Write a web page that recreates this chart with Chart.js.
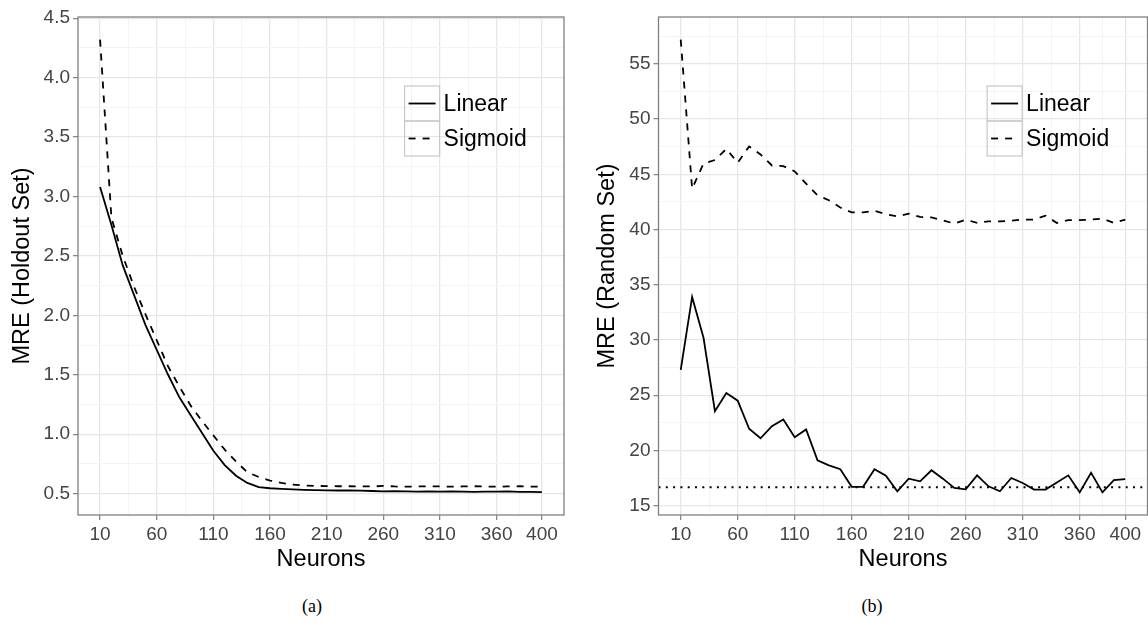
<!DOCTYPE html>
<html>
<head>
<meta charset="utf-8">
<script src="https://cdn.jsdelivr.net/npm/chart.js@4.4.1/dist/chart.umd.min.js"></script>
<style>
  html, body { margin: 0; padding: 0; background: #fff; }
  body { width: 1148px; height: 626px; position: relative; overflow: hidden; font-family: "Liberation Sans", Arial, sans-serif; }
  .panel { position: absolute; top: 0; height: 580px; }
  #wrapA { left: 0; width: 580px; }
  #wrapB { left: 580px; width: 568px; }
  .cap { position: absolute; top: 596px; font-family: "Liberation Serif", "Times New Roman", serif; font-size: 18px; color: #000; transform: translateX(-50%); }
</style>
</head>
<body>
<div class="panel" id="wrapA"><canvas id="chartA" width="580" height="580"></canvas></div>
<div class="panel" id="wrapB"><canvas id="chartB" width="568" height="580"></canvas></div>
<div class="cap" style="left:312px">(a)</div>
<div class="cap" style="left:872px">(b)</div>
<script>
// neurons on the x axis
const neurons = [10, 20, 30, 40, 50, 60, 70, 80, 90, 100, 110, 120, 130, 140, 150, 160, 170, 180, 190, 200,
  210, 220, 230, 240, 250, 260, 270, 280, 290, 300, 310, 320, 330, 340, 350, 360, 370, 380, 390, 400];
const xTicks = [10, 60, 110, 160, 210, 260, 310, 360, 400];
const xMinor = [35, 85, 135, 185, 235, 285, 335, 380];

// (a) holdout set
const holdoutLinear = [3.08, 2.76, 2.42, 2.17, 1.92, 1.71, 1.50, 1.31, 1.16, 1.01, 0.86, 0.74, 0.65, 0.59, 0.555, 0.545, 0.54, 0.535, 0.532, 0.53,
  0.528, 0.526, 0.527, 0.525, 0.522, 0.518, 0.52, 0.518, 0.516, 0.518, 0.517, 0.518, 0.516, 0.514, 0.517, 0.516, 0.518, 0.515, 0.514, 0.513];
const holdoutSigmoid = [4.32, 2.82, 2.50, 2.24, 2.01, 1.79, 1.57, 1.40, 1.24, 1.11, 0.99, 0.87, 0.77, 0.68, 0.64, 0.61, 0.59, 0.575, 0.568, 0.565,
  0.563, 0.562, 0.562, 0.56, 0.56, 0.565, 0.56, 0.558, 0.56, 0.562, 0.56, 0.558, 0.56, 0.562, 0.56, 0.558, 0.56, 0.562, 0.558, 0.558];
const holdoutTicks = [0.5, 1.0, 1.5, 2.0, 2.5, 3.0, 3.5, 4.0, 4.5];
const holdoutMinor = [0.75, 1.25, 1.75, 2.25, 2.75, 3.25, 3.75, 4.25];

// (b) random set
const randomLinear = [27.3, 33.9, 30.2, 23.55, 25.2, 24.5, 21.96, 21.1, 22.2, 22.8, 21.2, 21.9, 19.1, 18.65, 18.3, 16.7, 16.7, 18.3, 17.7, 16.3,
  17.44, 17.2, 18.2, 17.44, 16.6, 16.48, 17.74, 16.75, 16.3, 17.5, 17.05, 16.45, 16.45, 17.1, 17.74, 16.2, 17.98, 16.2, 17.3, 17.4];
const randomSigmoid = [57.2, 43.7, 45.97, 46.3, 47.3, 46.05, 47.53, 46.8, 45.8, 45.75, 45.27, 44.16, 43.1, 42.65, 42.0, 41.55, 41.55, 41.7, 41.38, 41.2,
  41.44, 41.14, 41.1, 40.84, 40.54, 40.9, 40.6, 40.75, 40.75, 40.8, 40.9, 40.9, 41.26, 40.6, 40.85, 40.85, 40.9, 41.0, 40.6, 40.9];
const randomBaseline = 16.67;
const randomTicks = [15, 20, 25, 30, 35, 40, 45, 50, 55];
const randomMinor = [17.5, 22.5, 27.5, 32.5, 37.5, 42.5, 47.5, 52.5, 57.5];

const FONT = '"Liberation Sans", Arial, Helvetica, sans-serif';
const majorGrid = '#e6e6e6';
const minorGrid = '#f4f4f4';
const frame = '#808080';

function pts(ys) {
  return neurons.map((n, i) => ({ x: n, y: ys[i] }));
}

// ggplot-ish panel border + legend inside the panel
const panelPlugin = {
  id: 'panel',
  afterDatasetsDraw(chart) {
    const { ctx, chartArea: a } = chart;
    ctx.save();
    ctx.strokeStyle = frame;
    ctx.lineWidth = 1.3;
    ctx.strokeRect(a.left, a.top, a.right - a.left, a.bottom - a.top);

    const items = chart.data.datasets.filter((d) => d.inLegend);
    const x0 = a.left + 0.672 * (a.right - a.left);
    let y0 = 86;
    const k = 35;
    items.forEach((d) => {
      ctx.setLineDash([]);
      ctx.strokeStyle = '#c8c8c8';
      ctx.lineWidth = 1.2;
      ctx.strokeRect(x0, y0, k, k);
      ctx.strokeStyle = d.borderColor;
      ctx.lineWidth = d.borderWidth;
      ctx.setLineDash(d.borderDash || []);
      ctx.beginPath();
      ctx.moveTo(x0 + 4, y0 + k / 2);
      ctx.lineTo(x0 + k - 4, y0 + k / 2);
      ctx.stroke();
      ctx.setLineDash([]);
      ctx.fillStyle = '#000';
      ctx.font = '23px ' + FONT;
      ctx.textAlign = 'left';
      ctx.textBaseline = 'middle';
      ctx.fillText(d.label, x0 + k + 4, y0 + k / 2 + 1);
      y0 += k;
    });
    ctx.restore();
  }
};

function makeChart(id, cfg) {
  const xMajorSet = new Set(xTicks);
  const yMajorSet = new Set(cfg.yTicks);
  const datasets = [
    { label: 'Linear', data: pts(cfg.linear), borderColor: '#000', borderWidth: 1.8, pointRadius: 0, inLegend: true },
    { label: 'Sigmoid', data: pts(cfg.sigmoid), borderColor: '#000', borderWidth: 1.8, borderDash: [7, 7], pointRadius: 0, inLegend: true }
  ];
  if (cfg.baseline != null) {
    datasets.push({
      label: 'baseline',
      data: [{ x: -9.5, y: cfg.baseline }, { x: 419.5, y: cfg.baseline }],
      borderColor: '#000', borderWidth: 2, borderDash: [2, 5.3], pointRadius: 0
    });
  }
  return new Chart(document.getElementById(id).getContext('2d'), {
    type: 'line',
    data: { datasets },
    options: {
      responsive: false,
      animation: false,
      layout: { padding: { top: 17, right: cfg.padRight, left: 0, bottom: 0 } },
      plugins: { legend: { display: false }, tooltip: { enabled: false } },
      scales: {
        x: {
          type: 'linear',
          min: -9.5,
          max: 419.5,
          afterBuildTicks: (s) => {
            s.ticks = xTicks.concat(xMinor).sort((a, b) => a - b).map((v) => ({ value: v }));
          },
          afterFit: (s) => { s.height = 65; },
          border: { display: false },
          grid: {
            color: (c) => (xMajorSet.has(c.tick && c.tick.value) ? majorGrid : minorGrid),
            lineWidth: (c) => (xMajorSet.has(c.tick && c.tick.value) ? 1.3 : 1),
            tickColor: (c) => (xMajorSet.has(c.tick && c.tick.value) ? frame : 'rgba(0,0,0,0)'),
            tickLength: 5,
            tickWidth: 1.2
          },
          ticks: {
            autoSkip: false,
            maxRotation: 0,
            padding: 3,
            color: '#444',
            font: { family: FONT, size: 19 },
            callback: (v) => (xMajorSet.has(v) ? String(v) : '')
          },
          title: { display: true, text: 'Neurons', color: '#000', font: { family: FONT, size: 23.5 }, padding: { top: 0, bottom: 6 } }
        },
        y: {
          min: cfg.yMin,
          max: cfg.yMax,
          afterBuildTicks: (s) => {
            s.ticks = cfg.yTicks.concat(cfg.yMinor).sort((a, b) => a - b).map((v) => ({ value: v }));
          },
          afterFit: (s) => { s.width = cfg.yWidth; },
          border: { display: false },
          grid: {
            color: (c) => (yMajorSet.has(c.tick && c.tick.value) ? majorGrid : minorGrid),
            lineWidth: (c) => (yMajorSet.has(c.tick && c.tick.value) ? 1.3 : 1),
            tickColor: (c) => (yMajorSet.has(c.tick && c.tick.value) ? frame : 'rgba(0,0,0,0)'),
            tickLength: 5,
            tickWidth: 1.2
          },
          ticks: {
            autoSkip: false,
            padding: 3,
            color: '#444',
            font: { family: FONT, size: 19 },
            callback: (v) => (yMajorSet.has(v) ? cfg.fmt(v) : '')
          },
          title: { display: true, text: cfg.yTitle, color: '#000', font: { family: FONT, size: 23.5 }, padding: { top: cfg.titlePad, bottom: 0 } }
        }
      }
    },
    plugins: [panelPlugin]
  });
}

makeChart('chartA', {
  linear: holdoutLinear,
  sigmoid: holdoutSigmoid,
  yMin: 0.32, yMax: 4.51,
  yTicks: holdoutTicks, yMinor: holdoutMinor,
  yWidth: 78, padRight: 16, titlePad: 8,
  yTitle: 'MRE (Holdout Set)',
  fmt: (v) => v.toFixed(1)
});

makeChart('chartB', {
  linear: randomLinear,
  sigmoid: randomSigmoid,
  baseline: randomBaseline,
  yMin: 14.15, yMax: 59.25,
  yTicks: randomTicks, yMinor: randomMinor,
  yWidth: 78.5, padRight: 0.5, titlePad: 13,
  yTitle: 'MRE (Random Set)',
  fmt: (v) => String(v)
});
</script>
</body>
</html>
